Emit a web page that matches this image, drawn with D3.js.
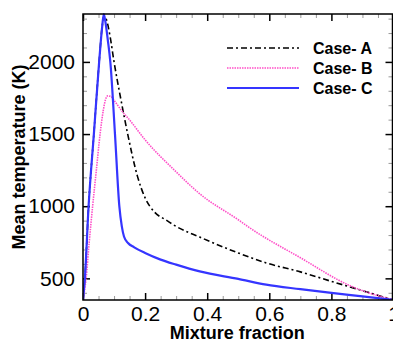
<!DOCTYPE html>
<html>
<head>
<meta charset="utf-8">
<script src="https://cdn.jsdelivr.net/npm/d3@7"></script>
<style>
  body { margin: 0; background: #fff; }
  svg { display: block; font-family: "Liberation Sans", Arial, sans-serif; }
</style>
</head>
<body>
<div id="chart"></div>
<script>
// values: [mixture fraction, mean temperature K]
const caseA = [[0, 350], [0.006, 500], [0.018, 1000], [0.035, 1500], [0.052, 2000], [0.062, 2250], [0.068, 2320],
  [0.076, 2290], [0.087, 2180], [0.1, 2000], [0.122, 1740], [0.144, 1500], [0.175, 1210], [0.2, 1058],
  [0.23, 960], [0.267, 905], [0.3, 860], [0.376, 786], [0.5, 676], [0.59, 607], [0.7, 545], [0.8, 479],
  [0.9, 415], [1, 350]];
const caseB = [[0, 350], [0.01, 500], [0.02, 750], [0.031, 1000], [0.043, 1250], [0.055, 1500], [0.065, 1660],
  [0.072, 1735], [0.08, 1765], [0.09, 1760], [0.103, 1725], [0.125, 1660], [0.15, 1598], [0.2, 1460],
  [0.3, 1238], [0.376, 1086], [0.5, 906], [0.537, 850], [0.7, 643], [0.86, 449], [1, 350]];
const caseC = [[0, 350], [0.006, 500], [0.018, 1000], [0.035, 1500], [0.052, 2000], [0.062, 2250], [0.067, 2332],
  [0.072, 2280], [0.08, 2150], [0.088, 2000], [0.103, 1500], [0.117, 1000], [0.125, 860], [0.132, 790],
  [0.145, 745], [0.165, 715], [0.2, 676], [0.25, 630], [0.3, 595], [0.376, 548], [0.5, 496], [0.59, 456],
  [0.7, 425], [0.8, 399], [0.9, 375], [1, 350]];

const seriesNames = ["Case- A", "Case- B", "Case- C"];
const xTicks = [0, 0.2, 0.4, 0.6, 0.8, 1];
const yTicks = [500, 1000, 1500, 2000];

const W = 393, H = 342;
const m = { left: 83, top: 14, right: 393.5, bottom: 300 };

const x = d3.scaleLinear().domain([0, 1]).range([m.left, m.right]);
const y = d3.scaleLinear().domain([350, 2332]).range([m.bottom, m.top]);

const svg = d3.select("#chart").append("svg")
  .attr("width", W)
  .attr("height", H);

const xMinor = d3.range(0, 1.0001, 0.05).map(v => +v.toFixed(2)).filter(v => !xTicks.includes(v));
const yMinor = d3.range(400, 2332, 100).filter(v => !yTicks.includes(v));

function styleAxis(g) {
  g.select(".domain").remove();
  g.selectAll(".tick line").attr("stroke", "#000").attr("stroke-width", 1.5);
  g.selectAll(".tick text").attr("font-size", 21).attr("fill", "#000");
}
function styleMinor(g) {
  g.select(".domain").remove();
  g.selectAll(".tick line").attr("stroke", "#999").attr("stroke-width", 1);
}

// major ticks, inward, with labels on bottom and left
svg.append("g").attr("transform", `translate(0,${m.bottom})`)
  .call(d3.axisBottom(x).tickValues(xTicks).tickSize(-7).tickPadding(6).tickFormat(d3.format("")))
  .call(styleAxis);
svg.append("g").attr("transform", `translate(${m.left},0)`)
  .call(d3.axisLeft(y).tickValues(yTicks).tickSize(-7).tickPadding(8).tickFormat(d3.format("d")))
  .call(styleAxis);
svg.append("g").attr("transform", `translate(0,${m.top})`)
  .call(d3.axisTop(x).tickValues(xTicks).tickSize(-7).tickFormat(""))
  .call(styleAxis);
svg.append("g").attr("transform", `translate(${m.right - 1},0)`)
  .call(d3.axisRight(y).tickValues(yTicks).tickSize(-7).tickFormat(""))
  .call(styleAxis);

// minor ticks
svg.append("g").attr("transform", `translate(0,${m.bottom})`)
  .call(d3.axisBottom(x).tickValues(xMinor).tickSize(-4).tickFormat("")).call(styleMinor);
svg.append("g").attr("transform", `translate(0,${m.top})`)
  .call(d3.axisTop(x).tickValues(xMinor).tickSize(-4).tickFormat("")).call(styleMinor);
svg.append("g").attr("transform", `translate(${m.left},0)`)
  .call(d3.axisLeft(y).tickValues(yMinor).tickSize(-4).tickFormat("")).call(styleMinor);
svg.append("g").attr("transform", `translate(${m.right - 1},0)`)
  .call(d3.axisRight(y).tickValues(yMinor).tickSize(-4).tickFormat("")).call(styleMinor);

const line = d3.line().x(d => x(d[0])).y(d => y(d[1])).curve(d3.curveMonotoneX);

const styles = [
  { data: caseA, color: "#000", width: 1.6, dash: "6,3,2,3" },
  { data: caseB, color: "#ff4fc8", width: 1.6, dash: "1.5,1" },
  { data: caseC, color: "#3535ff", width: 2.2, dash: null }
];

svg.append("clipPath").attr("id", "plot")
  .append("rect").attr("x", m.left).attr("y", m.top - 2).attr("width", m.right - m.left).attr("height", m.bottom - m.top + 2);

const plot = svg.append("g").attr("clip-path", "url(#plot)");
styles.forEach(s => {
  plot.append("path")
    .attr("d", line(s.data))
    .attr("fill", "none")
    .attr("stroke", s.color)
    .attr("stroke-width", s.width)
    .attr("stroke-dasharray", s.dash);
});

// frame
svg.append("path")
  .attr("d", `M${m.left},${m.top}H${m.right - 1}V${m.bottom}H${m.left}Z`)
  .attr("fill", "none").attr("stroke", "#000").attr("stroke-width", 1.5);

// legend
const legend = svg.append("g");
seriesNames.forEach((name, i) => {
  const ly = 48 + i * 20;
  legend.append("line")
    .attr("x1", 227).attr("x2", 299).attr("y1", ly).attr("y2", ly)
    .attr("stroke", styles[i].color)
    .attr("stroke-width", styles[i].width)
    .attr("stroke-dasharray", styles[i].dash);
  legend.append("text")
    .attr("x", 313).attr("y", ly).attr("dy", "0.36em")
    .attr("font-size", 16).attr("font-weight", "bold")
    .text(name);
});

// axis titles
svg.append("text")
  .attr("x", (m.left + m.right) / 2 - 1).attr("y", 339)
  .attr("text-anchor", "middle").attr("font-size", 18).attr("font-weight", "bold")
  .text("Mixture fraction");
svg.append("text")
  .attr("transform", `translate(25,157) rotate(-90)`)
  .attr("text-anchor", "middle").attr("font-size", 18).attr("font-weight", "bold")
  .text("Mean temperature (K)");
</script>
</body>
</html>
